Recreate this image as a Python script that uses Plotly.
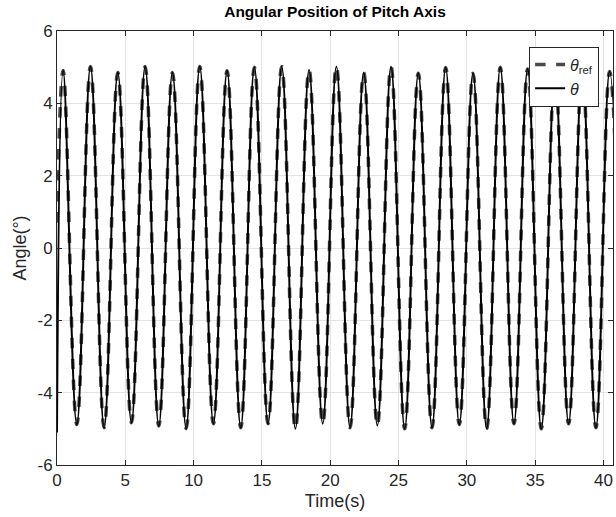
import plotly.graph_objects as go

# Peak / trough readings (time in s, angle in deg)
peak_times = [0.45 + 2 * k for k in range(21)]
peak_vals = [4.91, 5.02, 4.85, 5.02, 4.85, 5.02, 4.90, 5.00, 5.02, 4.93, 5.02,
             4.85, 5.02, 4.83, 4.99, 4.83, 5.00, 4.95, 4.90, 4.95, 4.88]
trough_times = [1.45 + 2 * k for k in range(20)]
trough_vals = [-4.88, -4.97, -4.83, -4.92, -4.99, -4.86, -4.97, -4.86, -5.00, -4.86,
               -4.97, -4.91, -5.00, -4.97, -4.88, -5.00, -4.86, -5.00, -4.86, -4.97]
start_ref = (0.0, 0.7)
start_theta = (0.0, -5.1)
end_pt = (41.45, -4.9)

x_ticks = [0, 5, 10, 15, 20, 25, 30, 35, 40]
y_ticks = [-6, -4, -2, 0, 2, 4, 6]
y_ticktext = ["-6", "-4", "-2", "0", "2", "4", "6"]

ext = sorted(list(zip(peak_times, peak_vals)) + list(zip(trough_times, trough_vals)) + [end_pt])

ref_t = [start_ref[0]] + [p[0] for p in ext]
ref_v = [start_ref[1]] + [p[1] for p in ext]
th_t = [start_theta[0]] + [p[0] for p in ext]
th_v = [start_theta[1]] + [p[1] for p in ext]

FONT = "Liberation Sans, Arial, Helvetica"

fig = go.Figure()
fig.add_trace(go.Scatter(x=ref_t, y=ref_v, mode="lines", name="<i>θ</i><sub>ref</sub>",
                         line=dict(color="#4a4a4a", width=3.5, dash="dash", shape="spline", smoothing=1.2)))
fig.add_trace(go.Scatter(x=th_t, y=th_v, mode="lines", name="<i>θ</i>",
                         line=dict(color="black", width=2, shape="spline", smoothing=1.2)))

axis_common = dict(showline=True, linecolor="#262626", linewidth=1, mirror="ticks",
                   ticks="inside", ticklen=5, tickcolor="#262626",
                   showgrid=True, gridcolor="#e3e3e3", gridwidth=1, zeroline=False,
                   tickfont=dict(family=FONT, size=17, color="#262626"))

fig.update_layout(
    width=616, height=517,
    margin=dict(l=57, r=3, t=31, b=52),
    paper_bgcolor="white", plot_bgcolor="white",
    title=dict(text="<b>Angular Position of Pitch Axis</b>", x=(57 + 613) / 2 / 616, xanchor="center",
               y=1 - 12 / 517, yanchor="middle",
               font=dict(family=FONT, size=15.5, color="black")),
    xaxis=dict(range=[0, 40.7], tickvals=x_ticks,
               title=dict(text="Time(s)", font=dict(family=FONT, size=18, color="#262626"), standoff=4),
               **axis_common),
    yaxis=dict(range=[-6, 6], tickvals=y_ticks, ticktext=y_ticktext,
               title=dict(text="Angle(°)", font=dict(family=FONT, size=18, color="#262626"), standoff=6),
               **axis_common),
    legend=dict(x=0.975, y=0.964, xanchor="right", yanchor="top",
                bgcolor="white", bordercolor="#262626", borderwidth=1,
                font=dict(family=FONT, size=16, color="#262626"),
                tracegroupgap=0),
    showlegend=True,
)

fig.write_html("out.html")
